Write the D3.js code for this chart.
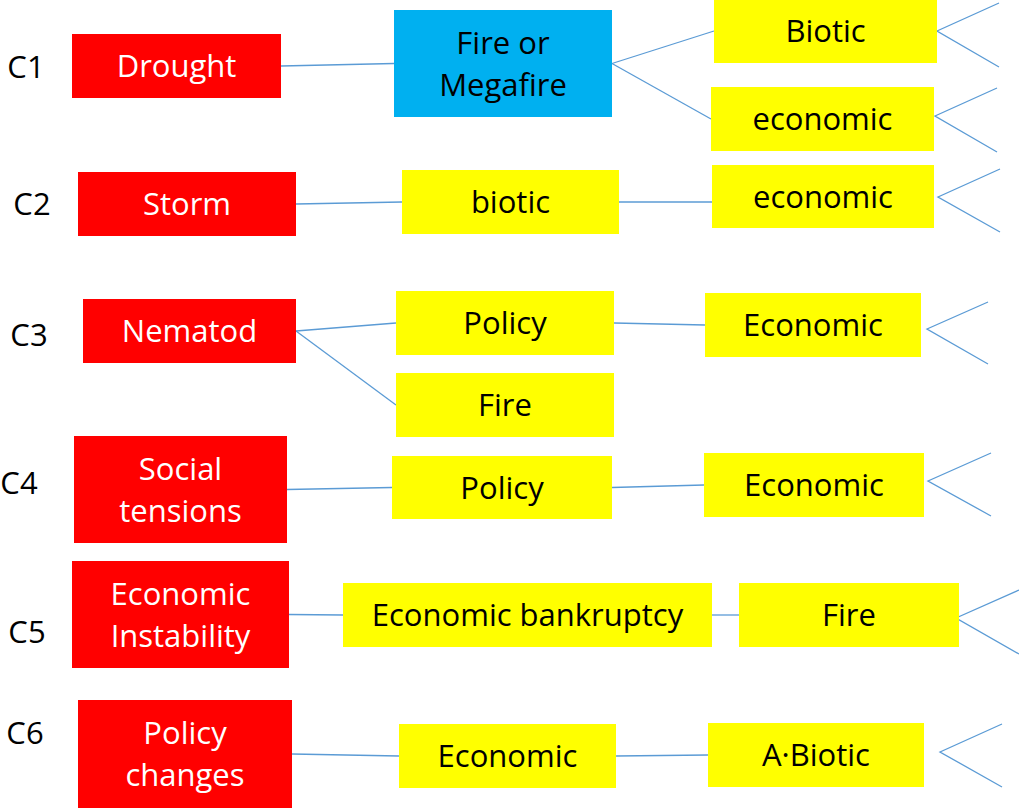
<!DOCTYPE html>
<html>
<head>
<meta charset="utf-8">
<script src="https://cdn.jsdelivr.net/npm/d3@7"></script>
<style>
  body { margin: 0; background: #fff; }
  text { font-family: "Open Sans", "Noto Sans", sans-serif; }
</style>
</head>
<body>
<div id="chart-area"></div>
<script>
// ---- data: rows, nodes and how they connect ----
var rowLabels = ["C1", "C2", "C3", "C4", "C5", "C6"];

// [id, row, label, kind]
var nodes = [
  ["drought", "C1", "Drought", "cause"],
  ["megafire", "C1", "Fire or\nMegafire", "key"],
  ["biotic1", "C1", "Biotic", "effect"],
  ["econ1", "C1", "economic", "effect"],
  ["storm", "C2", "Storm", "cause"],
  ["biotic2", "C2", "biotic", "effect"],
  ["econ2", "C2", "economic", "effect"],
  ["nematod", "C3", "Nematod", "cause"],
  ["policy3", "C3", "Policy", "effect"],
  ["fire3", "C3", "Fire", "effect"],
  ["econ3", "C3", "Economic", "effect"],
  ["social", "C4", "Social\ntensions", "cause"],
  ["policy4", "C4", "Policy", "effect"],
  ["econ4", "C4", "Economic", "effect"],
  ["instab", "C5", "Economic\nInstability", "cause"],
  ["bankrupt", "C5", "Economic bankruptcy", "effect"],
  ["fire5", "C5", "Fire", "effect"],
  ["polchg", "C6", "Policy\nchanges", "cause"],
  ["econ6", "C6", "Economic", "effect"],
  ["abiotic", "C6", "A\u00b7Biotic", "effect"]
];

var links = [
  ["drought", "megafire"], ["megafire", "biotic1"], ["megafire", "econ1"],
  ["storm", "biotic2"], ["biotic2", "econ2"],
  ["nematod", "policy3"], ["nematod", "fire3"], ["policy3", "econ3"],
  ["social", "policy4"], ["policy4", "econ4"],
  ["instab", "bankrupt"], ["bankrupt", "fire5"],
  ["polchg", "econ6"], ["econ6", "abiotic"]
];

// nodes that end in an open fan (further consequences)
var fanNodes = ["biotic1", "econ1", "econ2", "econ3", "econ4", "fire5", "abiotic"];

// ---- layout (reference pixel space) ----
var rowPos = {
  C1: [26, 67], C2: [32, 204], C3: [29, 335],
  C4: [19, 483], C5: [27, 632], C6: [25, 733]
};

var boxes = {
  drought: [72, 34, 281, 98],
  megafire: [394, 10, 612, 117],
  biotic1: [714, -1, 937, 63],
  econ1: [711, 87, 934, 151],
  storm: [78, 172, 296, 236],
  biotic2: [402, 170, 619, 234],
  econ2: [712, 165, 934, 228],
  nematod: [83, 299, 296, 363],
  policy3: [396, 291, 614, 355],
  fire3: [396, 373, 614, 437],
  econ3: [705, 293, 921, 357],
  social: [74, 436, 287, 543],
  policy4: [392, 456, 612, 519],
  econ4: [704, 453, 924, 517],
  instab: [72, 561, 289, 668],
  bankrupt: [343, 583, 712, 647],
  fire5: [739, 583, 959, 647],
  polchg: [78, 700, 292, 808],
  econ6: [399, 724, 616, 788],
  abiotic: [708, 723, 924, 787]
};

// where a connector meets a box off its middle
var anchorY = { "biotic2>econ2": [202, 202] };

// fan: [apexX, apexY, endX, topY, bottomY]
var fans = {
  biotic1: [937, 31, 999, 3, 67],
  econ1: [935, 116, 997, 88, 152],
  econ2: [938, 197, 1000, 169, 232],
  econ3: [927, 329, 988, 302, 364],
  econ4: [928, 481, 991, 453, 516],
  fire5: [956, 618, 1019, 590, 654],
  abiotic: [940, 752, 1002, 724, 787]
};

var fill = { cause: "#ff0000", key: "#00b0f0", effect: "#ffff00" };
var ink = { cause: "#ffffff", key: "#000000", effect: "#000000" };
var lineColor = "#5b9bd5";
var fontSize = 31;

var width = 1019;
var height = 808;

var x = d3.scaleLinear().domain([0, 1019]).range([0, width]);
var y = d3.scaleLinear().domain([0, 808]).range([0, height]);

var svg = d3.select("#chart-area").append("svg")
  .attr("width", width)
  .attr("height", height);

var byId = {};
nodes.forEach(function(n) {
  byId[n[0]] = { id: n[0], row: n[1], label: n[2], kind: n[3], box: boxes[n[0]] };
});

function midY(id) {
  var b = byId[id].box;
  return (b[1] + b[3]) / 2;
}

function ends(d) {
  var a = anchorY[d[0] + ">" + d[1]];
  return a ? a : [midY(d[0]), midY(d[1])];
}

// links: right middle of source -> left middle of target
svg.append("g").selectAll("line")
  .data(links)
  .enter().append("line")
    .attr("x1", function(d) { return x(byId[d[0]].box[2]); })
    .attr("y1", function(d) { return y(ends(d)[0]); })
    .attr("x2", function(d) { return x(byId[d[1]].box[0]); })
    .attr("y2", function(d) { return y(ends(d)[1]); })
    .attr("stroke", lineColor)
    .attr("stroke-width", 1.3);

// open fans
svg.append("g").selectAll("path")
  .data(fanNodes)
  .enter().append("path")
    .attr("d", function(id) {
      var f = fans[id];
      return "M" + x(f[2]) + "," + y(f[3]) + "L" + x(f[0]) + "," + y(f[1]) + "L" + x(f[2]) + "," + y(f[4]);
    })
    .attr("fill", "none")
    .attr("stroke", lineColor)
    .attr("stroke-width", 1.3);

// boxes
var g = svg.append("g").selectAll("g")
  .data(nodes.map(function(n) { return byId[n[0]]; }))
  .enter().append("g");

g.append("rect")
  .attr("x", function(d) { return x(d.box[0]); })
  .attr("y", function(d) { return y(d.box[1]); })
  .attr("width", function(d) { return x(d.box[2]) - x(d.box[0]); })
  .attr("height", function(d) { return y(d.box[3]) - y(d.box[1]); })
  .attr("fill", function(d) { return fill[d.kind]; });

g.each(function(d) {
  var lines = d.label.split("\n");
  var cx = x((d.box[0] + d.box[2]) / 2);
  var cy = y((d.box[1] + d.box[3]) / 2);
  var lh = 42;
  var t = d3.select(this).append("text")
    .attr("text-anchor", "middle")
    .attr("font-size", fontSize + "px")
    .attr("fill", ink[d.kind]);
  lines.forEach(function(l, i) {
    t.append("tspan")
      .attr("x", cx)
      .attr("y", cy + (i - (lines.length - 1) / 2) * lh + fontSize * 0.36)
      .text(l);
  });
});

// row labels
svg.append("g").selectAll("text")
  .data(rowLabels)
  .enter().append("text")
    .attr("x", function(d) { return x(rowPos[d][0]); })
    .attr("y", function(d) { return y(rowPos[d][1]) + fontSize * 0.36; })
    .attr("text-anchor", "middle")
    .attr("font-size", fontSize + "px")
    .attr("fill", "#000")
    .text(function(d) { return d; });
</script>
</body>
</html>
